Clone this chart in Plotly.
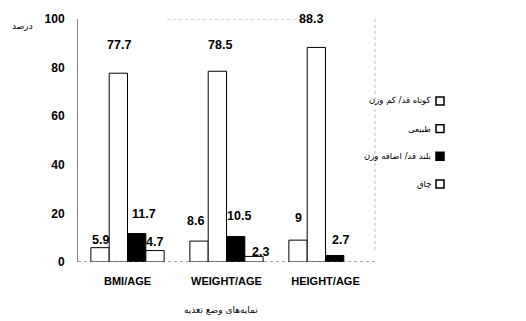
import plotly.graph_objects as go

categories = ["BMI/AGE", "WEIGHT/AGE", "HEIGHT/AGE"]
series_names = ["کوتاه قد/ کم وزن", "طبیعی", "بلند قد/ اضافه وزن", "چاق"]
short_vals = [5.9, 8.6, 9]
normal_vals = [77.7, 78.5, 88.3]
tall_vals = [11.7, 10.5, 2.7]
obese_vals = [4.7, 2.3, None]
y_ticks = [0, 20, 40, 60, 80, 100]
y_title = "درصد"
x_title = "نمایه‌های وضع تغذیه"

series_vals = [short_vals, normal_vals, tall_vals, obese_vals]
fills = ["white", "white", "black", "white"]
# label offsets (pixels) above bar tops, per series per category
label_lift = [[8, 20, 22], [28, 26, 28], [20, 20, 15], [9, 4, 0]]
label_xshift = [[0, -4, 0], [1, 3, -5], [7, 3, 6], [0, 7, 0]]

NUM_FONT = "Arial, Liberation Sans, sans-serif"
FA_FONT = "DejaVu Sans, Noto Sans, sans-serif"
bargap = 0.26

fig = go.Figure()
for name, vals, fc in zip(series_names, series_vals, fills):
    fig.add_trace(go.Bar(name=name, x=categories, y=vals,
                         marker=dict(color=fc, line=dict(color="black", width=1)),
                         showlegend=False, hoverinfo="skip"))

# value labels
n = len(series_vals)
slot = (1 - bargap) / n
for i, vals in enumerate(series_vals):
    for j, v in enumerate(vals):
        if v is None:
            continue
        fig.add_annotation(x=j + (i - (n - 1) / 2) * slot, y=v, xref="x", yref="y",
                           text="<b>%g</b>" % v, showarrow=False,
                           yshift=label_lift[i][j], xshift=label_xshift[i][j],
                           font=dict(family=NUM_FONT, size=12.5, color="black"))

# legend (right-to-left: text then square)
leg_y = [99, 127, 155, 183]
for i, name in enumerate(series_names):
    yp = 1 - (leg_y[i] - 16) / (262 - 16)
    fig.add_annotation(xref="paper", yref="paper", x=(433 - 78) / (375 - 78), y=yp,
                       xanchor="right", yanchor="middle", text=name, showarrow=False,
                       font=dict(family=FA_FONT, size=8.5, color="black"))
    x0 = (436 - 78) / (375 - 78)
    x1 = (444 - 78) / (375 - 78)
    h = 4 / (262 - 16)
    fig.add_shape(type="rect", xref="paper", yref="paper", x0=x0, x1=x1,
                  y0=yp - h, y1=yp + h, fillcolor=fills[i],
                  line=dict(color="black", width=1.5))

fig.add_annotation(xref="paper", yref="paper", x=-0.145, y=1.0, xanchor="right",
                   yanchor="top", text=y_title, showarrow=False,
                   font=dict(family=FA_FONT, size=9, color="black"))
fig.add_annotation(xref="paper", yref="paper", x=0.48, y=-0.17, xanchor="center",
                   yanchor="top", text=x_title, showarrow=False,
                   font=dict(family=FA_FONT, size=9, color="black"))

# frame lines
fig.add_shape(type="line", xref="paper", yref="y", x0=0, x1=1, y0=0, y1=0,
              line=dict(color="#555", width=1, dash="dot"))
fig.add_shape(type="line", xref="paper", yref="y", x0=0.3, x1=0.82, y0=100, y1=100,
              line=dict(color="#aaa", width=1, dash="dot"))
fig.add_shape(type="line", xref="paper", yref="paper", x0=1, x1=1, y0=0.05, y1=1,
              line=dict(color="#bbb", width=1, dash="dot"))

fig.update_layout(
    width=526, height=321,
    margin=dict(l=78, r=151, t=16, b=59),
    paper_bgcolor="white", plot_bgcolor="white",
    barmode="group", bargap=bargap, bargroupgap=0,
    showlegend=False,
    xaxis=dict(showline=False, showgrid=False, ticks="", zeroline=False,
               tickfont=dict(family=NUM_FONT, size=11, color="black"),
               ticklabelstandoff=11,
               tickvals=categories, ticktext=["<b>%s</b>" % c for c in categories]),
    yaxis=dict(range=[0, 100], tickvals=y_ticks,
               ticktext=["<b>%d</b>" % t for t in y_ticks],
               showgrid=False, zeroline=False, showline=True, linecolor="#888",
               linewidth=1, ticks="", ticklabelstandoff=10,
               tickfont=dict(family=NUM_FONT, size=12, color="black")),
)

fig.write_html("out.html", config={"displayModeBar": False},
               post_script="document.body.style.margin='0px';")
